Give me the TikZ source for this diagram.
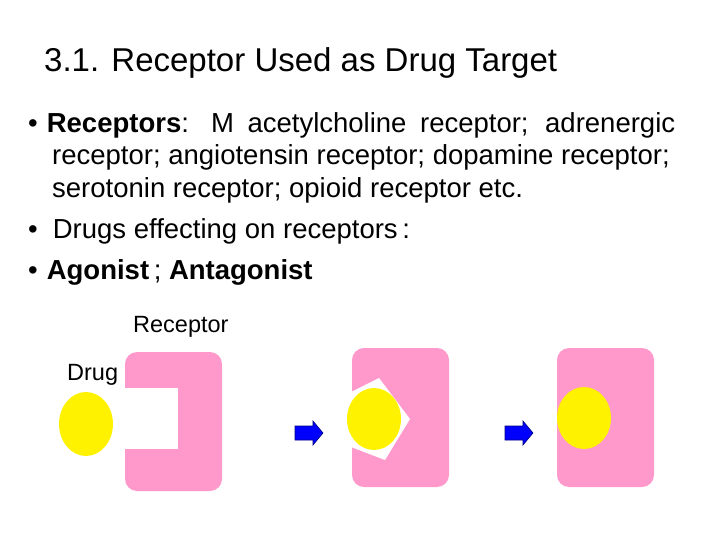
\documentclass[tikz,border=0pt]{standalone}
\usepackage{fontspec}
\setmainfont{Liberation Sans}
\begin{document}
\begin{tikzpicture}[x=1pt,y=-1pt,
  txt/.style={anchor=base west,inner sep=0pt,font=\fontsize{27.5}{30}\selectfont},
  lab/.style={anchor=base west,inner sep=0pt,font=\fontsize{23.5}{26}\selectfont},
  rec/.style={fill=pinkc,rounded corners=12pt},
  drugc/.style={fill=yellow},
  arr/.style={fill=blue,draw=blue!50!black,line width=0.6pt}]
\definecolor{pinkc}{HTML}{FF99CC}
\useasboundingbox (0,0) rectangle (720,540);
\node[txt,font=\fontsize{33}{36}\selectfont] (title) at (44,72) {3.1. Receptor Used as Drug Target};
\node[txt] (b1) at (28,133) {\makebox[647pt][s]{•\hspace{9pt}\textbf{Receptors}: M acetylcholine receptor; adrenergic}};
\node[txt] (l2) at (52,165) {receptor; angiotensin receptor; dopamine receptor;};
\node[txt] (l3) at (52,197) {serotonin receptor; opioid receptor etc.};
\node[txt] (b2) at (28,239) {•\hspace{15pt}Drugs effecting on receptors\,:};
\node[txt] (b3) at (28,279) {•\hspace{9pt}\textbf{Agonist}\,; \textbf{Antagonist}};
\node[lab] (lr) at (133,332) {Receptor};
\node[lab] (ld) at (67,380) {Drug};
% receptor 1 with notch
\fill[rec] (125,352) rectangle (222,491);
\fill[white] (124,388) rectangle (178,449);
\fill[drugc] (86,424) ellipse (27 and 32);
% arrow 1
\draw[arr] (295,426) -- (313,426) -- (313,421) -- (323,433) -- (313,445) -- (313,440) -- (295,440) -- cycle;
% receptor 2
\fill[rec] (352,348) rectangle (449,487);
\fill[white] (351,392) -- (379,378) -- (410,419) -- (385,460) -- (351,447) -- cycle;
\fill[drugc] (374,419) ellipse (27 and 31);
% arrow 2
\draw[arr] (505,426) -- (523,426) -- (523,421) -- (533,433) -- (523,445) -- (523,440) -- (505,440) -- cycle;
% receptor 3
\fill[rec] (557,348) rectangle (654,487);
\fill[drugc] (584,418) ellipse (27 and 31);
\end{tikzpicture}
\end{document}
